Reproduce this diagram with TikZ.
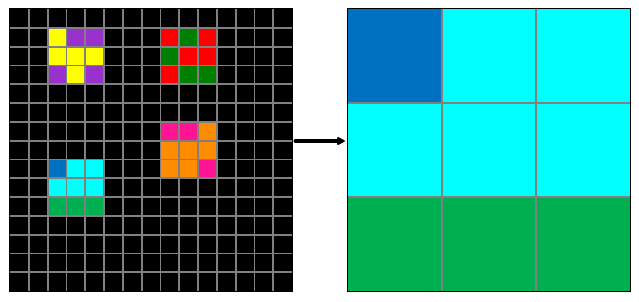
\documentclass[tikz,border=0pt]{standalone}
\usetikzlibrary{arrows.meta,positioning}
\definecolor{cblack}{HTML}{000000}
\definecolor{cyellow}{HTML}{FFFF00}
\definecolor{cpurple}{HTML}{9932CC}
\definecolor{cred}{HTML}{FF0000}
\definecolor{cgreen}{HTML}{008000}
\definecolor{cpink}{HTML}{FF1493}
\definecolor{corange}{HTML}{FF8C00}
\definecolor{cblue}{HTML}{0070C0}
\definecolor{ccyan}{HTML}{00FFFF}
\definecolor{clime}{HTML}{00B050}
\definecolor{gridcol}{HTML}{808080}

\begin{document}
\begin{tikzpicture}[
  x=1pt, y=-1pt,
  board/.style = {rectangle, inner sep=0pt, minimum size=282pt, fill=cblack},
  gridln/.style = {gridcol, line width=1.8pt},
  frame/.style  = {draw=black, line width=1pt},
  arr/.style    = {-{Stealth[length=10pt, width=10pt, inset=2.5pt, round]},
                   line width=3.3pt, line cap=round, black,
                   shorten <=3pt, shorten >=3pt}]
\newcommand{\smallcell}{18.8}
\newcommand{\bigcell}{94}
\useasboundingbox (0,0) rectangle (639,301);

% input grid, 15 x 15
\node[board] (in) at (151,150) {};
\foreach \r/\c/\col in {1/2/cyellow, 1/3/cpurple, 1/4/cpurple,
                        2/2/cyellow, 2/3/cyellow, 2/4/cyellow,
                        3/2/cpurple, 3/3/cyellow, 3/4/cpurple,
                        1/8/cred,    1/9/cgreen,  1/10/cred,
                        2/8/cgreen,  2/9/cred,    2/10/cred,
                        3/8/cred,    3/9/cgreen,  3/10/cgreen,
                        6/8/cpink,   6/9/cpink,   6/10/corange,
                        7/8/corange, 7/9/corange, 7/10/corange,
                        8/8/corange, 8/9/corange, 8/10/cpink,
                        8/2/cblue,   8/3/ccyan,   8/4/ccyan,
                        9/2/ccyan,   9/3/ccyan,   9/4/ccyan,
                        10/2/clime,  10/3/clime,  10/4/clime}
  \fill[\col] ({10+\c*\smallcell},{9+\r*\smallcell}) rectangle ++(\smallcell,\smallcell);
\foreach \i in {1,...,14} {
  \draw[gridln] ({10+\i*\smallcell},9) -- ++(0,282);
  \draw[gridln] (10,{9+\i*\smallcell}) -- ++(282,0);
}
\draw[frame] (in.north west) rectangle (in.south east);

% output grid, 3 x 3
\node[board] (out) at (489,150) {};
\foreach \r/\c/\col in {0/0/cblue, 0/1/ccyan, 0/2/ccyan,
                        1/0/ccyan, 1/1/ccyan, 1/2/ccyan,
                        2/0/clime, 2/1/clime, 2/2/clime}
  \fill[\col] ({348+\c*\bigcell},{9+\r*\bigcell}) rectangle ++(\bigcell,\bigcell);
\foreach \i in {1,2} {
  \draw[gridln] ({348+\i*\bigcell},9) -- ++(0,282);
  \draw[gridln] (348,{9+\i*\bigcell}) -- ++(282,0);
}
\draw[frame] (out.north west) rectangle (out.south east);

\draw[arr] ([yshift=9pt]in.east) -- ([yshift=9pt]out.west);
\end{tikzpicture}
\end{document}
